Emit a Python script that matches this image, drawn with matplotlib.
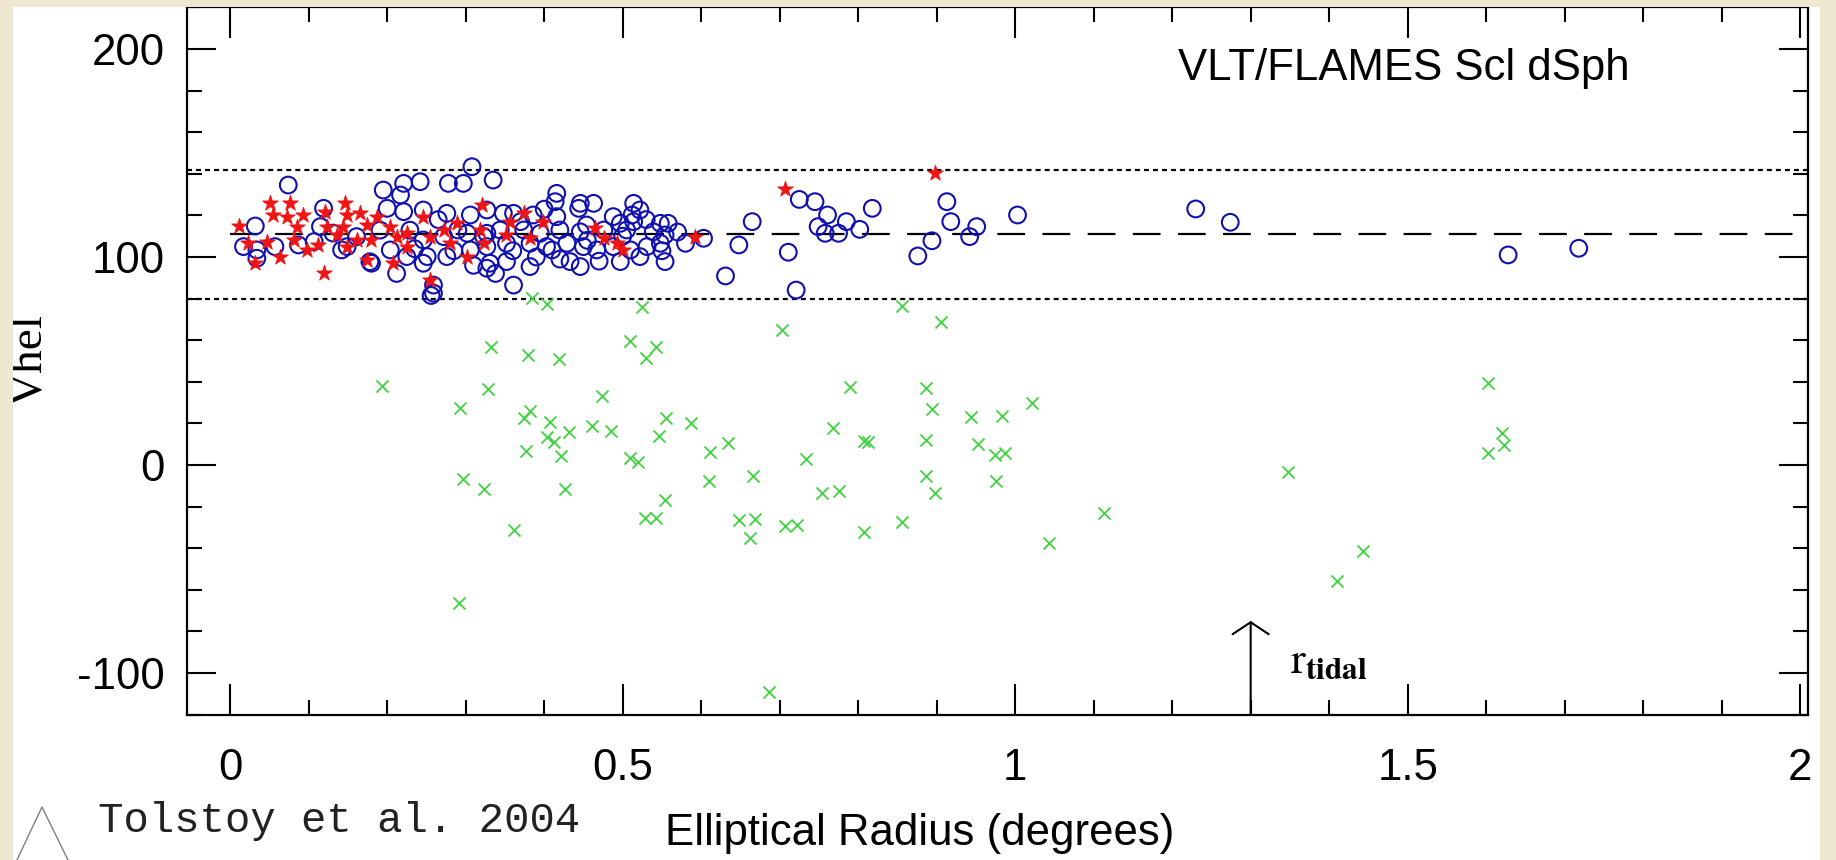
import matplotlib
matplotlib.use("Agg")
import matplotlib.pyplot as plt
from matplotlib.lines import Line2D
from matplotlib.patches import Rectangle
from matplotlib.ticker import FuncFormatter, MultipleLocator

plt.rcParams["font.family"] = ["Liberation Sans", "DejaVu Sans"]
plt.rcParams["axes.unicode_minus"] = False
plt.rcParams["mathtext.fontset"] = "stix"
plt.rcParams["lines.scale_dashes"] = False

W, H = 1836, 860
BEIGE = "#efe7cf"
BLUE = "#1010b0"
RED = "#f01414"
GREEN = "#3fd43f"

# FLAMES members (open circles): elliptical radius (deg), Vhel (km/s)
circ_r = [
    0.074, 0.032, 0.017, 0.034, 0.057, 0.034, 0.119, 0.087, 0.107, 0.142,
    0.178, 0.195, 0.221, 0.242, 0.278, 0.297, 0.308, 0.217, 0.200, 0.221,
    0.246, 0.276, 0.306, 0.327, 0.191, 0.229, 0.246, 0.272, 0.302, 0.323,
    0.204, 0.225, 0.251, 0.276, 0.306, 0.212, 0.246, 0.327, 0.149, 0.161,
    0.115, 0.259, 0.259, 0.180, 0.131, 0.256,
    0.335, 0.416, 0.414, 0.446, 0.463, 0.444, 0.514, 0.522, 0.512, 0.348,
    0.361, 0.386, 0.416, 0.454, 0.488, 0.497, 0.514, 0.548, 0.558, 0.665,
    0.327, 0.344, 0.374, 0.395, 0.420, 0.446, 0.476, 0.505, 0.539, 0.554,
    0.603, 0.580, 0.648, 0.327, 0.352, 0.382, 0.403, 0.429, 0.450, 0.467,
    0.488, 0.510, 0.531, 0.548, 0.331, 0.352, 0.382, 0.433, 0.446, 0.497,
    0.522, 0.554, 0.338, 0.361, 0.631, 0.410,
    0.360, 0.390, 0.420, 0.470, 0.500, 0.530, 0.290, 0.310, 0.235, 0.265,
    0.285, 0.550, 0.570, 0.455, 0.400, 0.370,
    0.711, 0.721, 0.725, 0.745, 0.761, 0.749, 0.758, 0.775, 0.785, 0.802,
    0.818, 0.876, 0.894, 0.913, 0.918, 0.942, 0.951, 1.003, 1.230, 1.274,
    1.628, 1.718,
]
circ_v = [
    134.6, 114.9, 105.0, 103.4, 105.0, 99.4, 123.4, 105.8, 107.4, 103.4,
    97.7, 132.2, 135.4, 136.2, 135.4, 135.4, 143.4, 129.8, 123.4, 121.8,
    122.6, 121.0, 120.2, 122.6, 112.9, 112.9, 108.2, 109.8, 111.4, 109.8,
    103.4, 100.2, 100.2, 100.2, 103.4, 92.1, 97.0, 94.6, 105.0, 109.8,
    114.6, 82.6, 86.5, 97.0, 111.5, 81.5,
    137.0, 130.6, 126.6, 125.8, 125.8, 123.4, 125.8, 122.6, 120.2, 121.0,
    121.0, 120.2, 119.4, 115.4, 119.4, 116.2, 117.0, 116.2, 116.2, 117.0,
    111.4, 113.0, 113.0, 111.4, 113.0, 112.1, 113.0, 113.0, 112.1, 110.6,
    109.0, 106.6, 105.8, 105.0, 106.6, 106.6, 105.0, 106.6, 105.0, 103.4,
    105.0, 103.4, 105.0, 106.6, 97.0, 97.8, 95.4, 97.8, 95.4, 97.8,
    100.2, 97.8, 92.1, 86.5, 90.9, 103.4,
    103.0, 100.0, 99.0, 98.0, 110.0, 118.0, 113.0, 96.0, 104.0, 118.0,
    103.0, 103.0, 112.0, 108.0, 123.0, 117.0,
    102.3, 84.1, 127.7, 126.6, 120.2, 114.6, 111.4, 111.4, 117.0, 113.3,
    123.4, 100.5, 107.8, 126.6, 117.0, 109.8, 114.6, 120.2, 123.1, 116.7,
    101.0, 104.2,
]

# second member sample (stars)
star_r = [
    0.011, 0.051, 0.076, 0.055, 0.072, 0.093, 0.085, 0.023, 0.047, 0.032,
    0.064, 0.081, 0.098, 0.112, 0.121, 0.123, 0.119, 0.146, 0.149, 0.144,
    0.166, 0.174, 0.161, 0.180, 0.174, 0.149, 0.204, 0.212, 0.225, 0.208,
    0.225, 0.246, 0.255, 0.272, 0.255, 0.289, 0.280, 0.302, 0.321, 0.318,
    0.187, 0.136, 0.374, 0.357, 0.399, 0.352, 0.382, 0.323, 0.465, 0.476,
    0.493, 0.501, 0.592, 0.707, 0.898,
]
star_v = [
    114.9, 125.8, 125.8, 120.2, 119.4, 120.2, 114.6, 106.6, 107.4, 97.0,
    100.2, 108.2, 103.4, 105.8, 121.8, 114.6, 92.1, 125.8, 120.2, 114.6,
    121.0, 115.4, 108.2, 108.2, 98.6, 105.0, 114.6, 109.8, 111.4, 97.0,
    105.0, 119.4, 109.8, 113.0, 89.0, 116.2, 106.6, 100.2, 125.0, 113.0,
    119.4, 110.6, 121.0, 117.0, 117.0, 110.6, 109.0, 106.6, 113.8, 109.0,
    106.6, 103.4, 109.5, 132.5, 140.5,
]

# non-members (crosses)
nonmem_r = [
    0.384, 0.403, 0.525, 0.703, 0.332, 0.379, 0.419, 0.509, 0.543, 0.530,
    0.194, 0.328, 0.474, 0.293, 0.382, 0.374, 0.407, 0.432, 0.461, 0.485,
    0.403, 0.413, 0.555, 0.587, 0.546, 0.634, 0.611, 0.377, 0.421, 0.509,
    0.519, 0.610, 0.666, 0.297, 0.323, 0.427, 0.554, 0.528, 0.543, 0.648,
    0.669, 0.707, 0.722, 0.662, 0.362,
    0.291, 0.686,
    0.856, 0.905, 0.790, 0.886, 0.894, 1.021, 0.944, 0.983, 0.768, 0.807,
    0.812, 0.886, 0.953, 0.974, 0.987, 0.733, 0.886, 0.975, 0.754, 0.776,
    0.898, 0.807, 0.856, 1.113, 1.043, 1.347, 1.443, 1.410, 1.602, 1.620,
    1.623, 1.602,
]
nonmem_v = [
    80.1, 77.4, 75.8, 64.9, 56.6, 52.9, 50.8, 59.6, 56.9, 51.3,
    38.1, 36.4, 33.3, 27.5, 26.1, 22.7, 20.5, 16.0, 18.8, 16.3,
    13.6, 10.9, 22.5, 20.0, 14.1, 10.8, 6.1, 6.9, 4.3, 3.5,
    1.3, -7.5, -5.3, -6.9, -11.7, -11.5, -16.8, -25.6, -25.6, -26.4,
    -26.1, -29.2, -28.8, -34.9, -31.3,
    -66.2, -109.3,
    76.4, 68.9, 37.3, 36.8, 26.9, 29.7, 23.2, 23.7, 17.6, 11.5,
    11.2, 12.0, 10.1, 4.8, 5.9, 2.9, -5.3, -7.5, -13.3, -12.3,
    -13.6, -32.4, -27.3, -23.2, -37.6, -3.5, -41.2, -55.8, 39.6, 15.2,
    9.6, 5.9,
]

v_sys = 111.0
v_cut_low, v_cut_high = 80.0, 142.0
r_tidal = 1.30
arrow_top = -75.0
xlim = (-0.055, 2.010)
ylim = (-120.2, 220.2)


def fx(px):
    return px / W


def fy(py):
    return 1 - py / H


fig = plt.figure(figsize=(W / 100, H / 100), dpi=100, facecolor="white")
ax = fig.add_axes([fx(187), fy(715), (1808 - 187) / W, (715 - 7) / H])
ax.set_xlim(*xlim)
ax.set_ylim(*ylim)

ax.axhline(v_cut_high, color="black", lw=1.6, dashes=(3.6, 2.9), zorder=2)
ax.axhline(v_cut_low, color="black", lw=1.6, dashes=(3.6, 2.9), zorder=2)
ax.plot([0, 2], [v_sys, v_sys], color="black", lw=1.6, dashes=(20, 12.5), zorder=2)

ax.scatter(nonmem_r, nonmem_v, s=75, marker="x", color=GREEN, linewidths=1.3, zorder=3)
ax.scatter(circ_r, circ_v, s=145, facecolors="none", edgecolors=BLUE, linewidths=1.5, zorder=3)
ax.scatter(star_r, star_v, s=140, marker="*", color=RED, linewidths=0.6, zorder=4)

ax.annotate(
    "",
    xy=(r_tidal, arrow_top),
    xytext=(r_tidal, ylim[0]),
    arrowprops=dict(
        arrowstyle="->,head_length=0.43,head_width=0.65",
        lw=1.5,
        color="black",
        shrinkA=0,
        shrinkB=0,
        mutation_scale=20,
    ),
    zorder=5,
)
ax.text(1.350, -100, r"$\mathrm{r}_{\mathbf{tidal}}$", fontsize=32, va="baseline", color="black")

ax.xaxis.set_major_locator(MultipleLocator(0.5))
ax.xaxis.set_minor_locator(MultipleLocator(0.1))
ax.yaxis.set_major_locator(MultipleLocator(100))
ax.yaxis.set_minor_locator(MultipleLocator(20))
fmt = FuncFormatter(lambda v, pos: f"{v:g}")
ax.xaxis.set_major_formatter(fmt)
ax.yaxis.set_major_formatter(fmt)

ax.tick_params(which="both", direction="in", top=True, right=True, width=1.5, colors="black")
ax.tick_params(axis="x", which="major", length=22, pad=24, labelsize=31.5)
ax.tick_params(axis="x", which="minor", length=11)
ax.tick_params(axis="y", which="major", length=21, pad=16, labelsize=31.5)
ax.tick_params(axis="y", which="minor", length=11)
for sp in ax.spines.values():
    sp.set_linewidth(1.6)

ax.set_xlabel("Elliptical Radius (degrees)", fontsize=31.5, ha="left", va="baseline")
ax.xaxis.set_label_coords((665 - 187) / 1621, (715 - 845) / 708)
ax.set_ylabel("Vhel", fontsize=34, family="Liberation Serif")
ax.yaxis.set_label_coords((52 - 187) / 1621, (715 - 360) / 708)

fig.text(fx(1178), fy(80), "VLT/FLAMES Scl dSph", fontsize=31.5, va="baseline")
fig.text(fx(98), fy(832), "Tolstoy et al. 2004", fontsize=30.5, family="Liberation Mono",
         va="baseline", color="#222222")
fig.add_artist(Line2D([fx(16), fx(42), fx(69)], [fy(862), fy(807), fy(862)],
                      transform=fig.transFigure, color="#808080", lw=1.0))

# beige slide border on top of everything
for x0, y0, w, h in [(0, 0, fx(13), 1), (fx(1820), 0, 1 - fx(1820), 1), (0, fy(7), 1, 1 - fy(7))]:
    fig.add_artist(Rectangle((x0, y0), w, h, transform=fig.transFigure,
                             facecolor=BEIGE, edgecolor="none", zorder=10))

fig.savefig("out.png", dpi=100, facecolor=fig.get_facecolor())
